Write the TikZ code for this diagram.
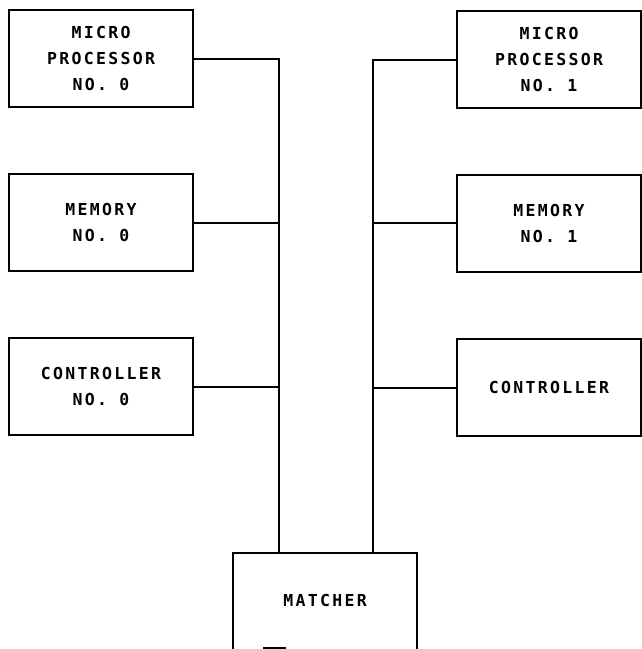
\documentclass[tikz,border=0pt]{standalone}
\usepackage{fontspec}
\newfontfamily\plotfont[LetterSpace=14]{DejaVu Sans Mono}
\begin{document}
\begin{tikzpicture}[x=1pt,y=-1pt,
  box/.style={draw,line width=2pt,rectangle,inner sep=0pt,minimum width=184pt,minimum height=97pt,
    align=center,font=\plotfont\bfseries\fontsize{16.5}{26}\selectfont},
  wire/.style={line width=2pt}]
\useasboundingbox (0,0) rectangle (642,649);
\clip (0,0) rectangle (642,649);
\node[box] (mp0) at (101,58.5) {MICRO\\PROCESSOR\\NO. 0};
\node[box] (mem0) at (101,222.5) {MEMORY\\NO. 0};
\node[box] (ctl0) at (101,386.5) {CONTROLLER\\NO. 0};
\node[box] (mp1) at (549,59.5) {MICRO\\PROCESSOR\\NO. 1};
\node[box] (mem1) at (549,223) {MEMORY\\NO. 1};
\node[box] (ctl1) at (549,387.5) {CONTROLLER};
\node[box,minimum height=0pt,text height=53pt,text depth=120pt,anchor=base] (match) at (325,606) {MATCHER};
\coordinate (lb) at (279,553);
\coordinate (rb) at (373,553);
\draw[wire] (mp0.east) -| (lb);
\draw[wire] (mem0.east) -- (mem0.east -| lb);
\draw[wire] (ctl0.east) -- (ctl0.east -| lb);
\draw[wire] (mp1.west) -| (rb);
\draw[wire] (mem1.west) -- (mem1.west -| rb);
\draw[wire] (ctl1.west) -- (ctl1.west -| rb);
\draw[wire] (263,648) -- (286,648);
\end{tikzpicture}
\end{document}
